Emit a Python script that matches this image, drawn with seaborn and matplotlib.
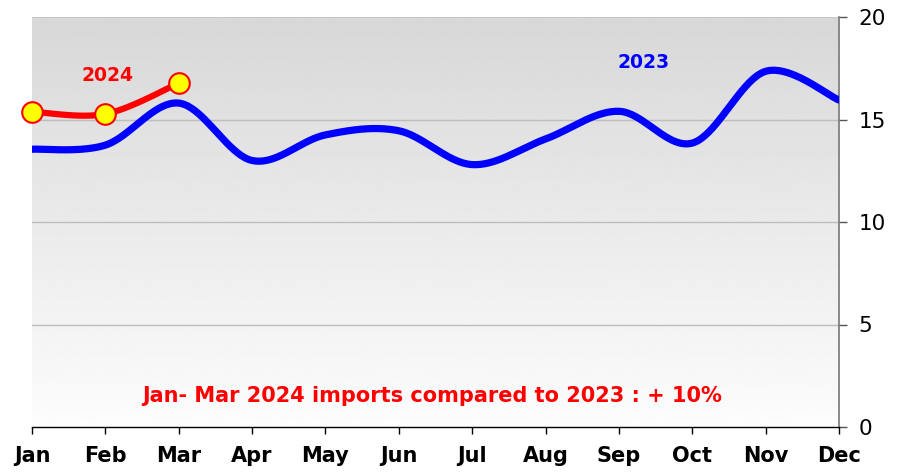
import numpy as np
import pandas as pd
import seaborn as sns
import matplotlib.pyplot as plt

# data
months = ['Jan', 'Feb', 'Mar', 'Apr', 'May', 'Jun',
          'Jul', 'Aug', 'Sep', 'Oct', 'Nov', 'Dec']
imports_2023 = [13.55, 13.75, 15.8, 13.0, 14.25, 14.45,
                12.8, 14.05, 15.4, 13.85, 17.35, 15.95]
imports_2024 = [15.38, 15.27, 16.77]
note = 'Jan- Mar 2024 imports compared to 2023 : + 10%'


def smooth(y, n=40):
    """ Catmull-Rom curve through the points (like Excel's smoothed line) """
    x = np.arange(len(y), dtype=float)
    y = np.asarray(y, dtype=float)
    px = np.concatenate([[x[0]], x, [x[-1]]])
    py = np.concatenate([[y[0]], y, [y[-1]]])
    xs, ys = [], []
    for i in range(1, len(px) - 2):
        t = np.linspace(0, 1, n, endpoint=False)
        for arr, out in ((px, xs), (py, ys)):
            p0, p1, p2, p3 = arr[i - 1], arr[i], arr[i + 1], arr[i + 2]
            out.extend(0.5 * (2 * p1 + (-p0 + p2) * t
                              + (2 * p0 - 5 * p1 + 4 * p2 - p3) * t ** 2
                              + (-p0 + 3 * p1 - 3 * p2 + p3) * t ** 3))
    xs.append(x[-1])
    ys.append(y[-1])
    return pd.DataFrame({'x': xs, 'y': ys})


curve_2023 = smooth(imports_2023)
curve_2024 = smooth(imports_2024)
points_2024 = pd.DataFrame({'x': range(len(imports_2024)), 'y': imports_2024})

sns.set_style('white')
plt.rcParams['font.family'] = ['DejaVu Sans']

fig = plt.figure(figsize=(9.05, 4.72), dpi=100)
ax = fig.add_axes([32 / 905, 45 / 472, (839 - 32) / 905, (427 - 17) / 472])

# grey-to-white gradient background
grad = np.linspace(0.99, 0.845, 256).reshape(-1, 1)
ax.imshow(grad, cmap='gray', vmin=0, vmax=1, aspect='auto',
          extent=[0, 11, 0, 20], origin='lower', zorder=0)

for v in [5, 10, 15]:
    ax.axhline(v, color='#bdbdbd', lw=1, zorder=1)
ax.axhline(20, color='#c4c4c4', lw=1.2, zorder=1)

sns.lineplot(data=curve_2023, x='x', y='y', color='#0000ff', lw=5.2,
             sort=False, ax=ax, zorder=3)
sns.lineplot(data=curve_2024, x='x', y='y', color='#ff0000', lw=4.5,
             sort=False, ax=ax, zorder=4)
sns.scatterplot(data=points_2024, x='x', y='y', color='#ffff00',
                edgecolor='#ff0000', linewidth=1.5, s=220, ax=ax,
                zorder=5, clip_on=False)

ax.text(1.03, 17.17, '2024', color='#ff0000', fontsize=13.5,
        fontweight='bold', ha='center', va='center')
ax.text(8.34, 17.8, '2023', color='#0000ff', fontsize=13.5,
        fontweight='bold', ha='center', va='center')
ax.text(5.45, 1.5, note, color='#ff0000', fontsize=15,
        fontweight='bold', ha='center', va='center')

ax.set_xlim(0, 11)
ax.set_ylim(0, 20)
ax.set_xticks(range(len(months)))
ax.set_xticklabels(months, fontsize=15, fontweight='bold', color='#000000')
ax.set_yticks([0, 5, 10, 15, 20])
ax.yaxis.tick_right()
ax.tick_params(axis='y', labelsize=15.5, labelcolor='#000000',
               direction='out', length=6, width=1, color='#555555',
               pad=8, right=True, left=False)
ax.tick_params(axis='x', direction='out', length=5, width=1,
               color='#000000', pad=9, bottom=True)
ax.set_xlabel('')
ax.set_ylabel('')

for side in ['left', 'top']:
    ax.spines[side].set_visible(False)
ax.spines['right'].set_color('#777777')
ax.spines['right'].set_linewidth(1.2)
ax.spines['bottom'].set_color('#000000')
ax.spines['bottom'].set_linewidth(1)

plt.savefig('out.png', dpi=100)
